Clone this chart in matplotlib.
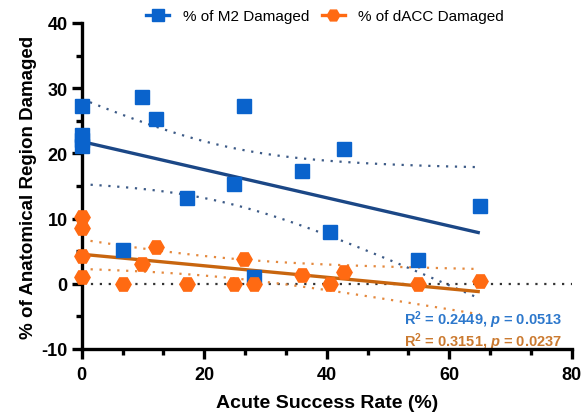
import numpy as np
import matplotlib
matplotlib.use("Agg")
import matplotlib.pyplot as plt
from matplotlib.ticker import MultipleLocator

plt.rcParams['font.family'] = ['Liberation Sans', 'DejaVu Sans']
plt.rcParams['mathtext.fontset'] = 'custom'
plt.rcParams['mathtext.rm'] = 'Liberation Sans:bold'
plt.rcParams['mathtext.it'] = 'Liberation Sans:italic:bold'
plt.rcParams['mathtext.bf'] = 'Liberation Sans:bold'
plt.rcParams['axes.unicode_minus'] = False

# Data
success_rate = [0, 0, 0, 0, 6.7, 9.8, 12.2, 17.2, 24.8, 26.5, 28.1, 36.0, 40.5, 42.8, 54.9, 65.0]
m2_damaged = [27.2, 22.8, 22.0, 21.1, 5.2, 28.7, 25.3, 13.1, 15.3, 27.3, 1.1, 17.3, 7.9, 20.7, 3.6, 11.9]
success_rate_d = [0, 0, 0, 0, 6.7, 9.8, 12.2, 17.2, 24.8, 26.5, 28.1, 36.0, 40.5, 42.8, 54.9, 65.0]
dacc_damaged = [10.3, 8.5, 4.3, 1.1, 0.0, 3.0, 5.7, 0.0, 0.0, 3.8, 0.0, 1.4, 0.0, 1.8, 0.0, 0.4]
stats_m2 = "R$^{2}$ = 0.2449, $p$ = 0.0513"
stats_dacc = "R$^{2}$ = 0.3151, $p$ = 0.0237"
x_ticks = [0, 20, 40, 60, 80]
y_ticks = [-10, 0, 10, 20, 30, 40]

T_CRIT = 2.145  # two-sided 95% t value, df = 14

blue_mk = '#0A63CC'
blue_ln = '#1B4786'
blue_ci = '#3C5A86'
blue_txt = '#2D78CC'
orange_mk = '#FF6A12'
orange_ln = '#C8650E'
orange_ci = '#E4893E'
orange_txt = '#CB7A30'

fig = plt.figure(figsize=(5.84, 4.14), dpi=100)
ax = fig.add_axes([81.7 / 584, 1 - 350 / 414, (571.7 - 81.7) / 584, (350 - 24) / 414])


def fit_band(x, y):
    x = np.asarray(x, float)
    y = np.asarray(y, float)
    n = len(x)
    b, a = np.polyfit(x, y, 1)
    xs = np.linspace(x.min(), x.max(), 100)
    yhat = a + b * xs
    resid = y - (a + b * x)
    s = np.sqrt(np.sum(resid ** 2) / (n - 2))
    sxx = np.sum((x - x.mean()) ** 2)
    se = s * np.sqrt(1.0 / n + (xs - x.mean()) ** 2 / sxx)
    return xs, yhat, yhat - T_CRIT * se, yhat + T_CRIT * se


# zero line
ax.plot([0, 80], [0, 0], color='#333333', ls=(0, (1, 3)), lw=1.6, zorder=1)

for xv, yv, mk, ln, ci in [(success_rate, m2_damaged, blue_mk, blue_ln, blue_ci),
                           (success_rate_d, dacc_damaged, orange_mk, orange_ln, orange_ci)]:
    xs, yh, lo, hi = fit_band(xv, yv)
    ax.plot(xs, lo, color=ci, ls=(0, (1, 3)), lw=1.6, zorder=2)
    ax.plot(xs, hi, color=ci, ls=(0, (1, 3)), lw=1.6, zorder=2)
    ax.plot(xs, yh, color=ln, lw=2.4, zorder=3, solid_capstyle='butt')

ax.plot(success_rate, m2_damaged, 's', color=blue_mk, ms=10, ls='none', zorder=4,
        clip_on=False)
ax.plot(success_rate_d, dacc_damaged, 'H', color=orange_mk, ms=11, ls='none', zorder=5,
        clip_on=False)

# legend handles
h1, = ax.plot([], [], color=blue_mk, marker='s', ms=8, lw=2.4)
h2, = ax.plot([], [], color=orange_mk, marker='H', ms=9, lw=2.4)
fig.legend([h1, h2], ['% of M2 Damaged', '% of dACC Damaged'], loc='center',
           bbox_to_anchor=(0.557, 0.958), ncol=2, frameon=False, fontsize=11,
           handlelength=1.5, columnspacing=0.8, handletextpad=0.9, borderpad=0.1)

ax.text(78.5, -5.5, stats_m2, color=blue_txt, fontsize=10.5, fontweight='bold',
        ha='right', va='center')
ax.text(78.5, -8.8, stats_dacc, color=orange_txt, fontsize=10.5, fontweight='bold',
        ha='right', va='center')

ax.set_xlim(0, 80)
ax.set_ylim(-10, 40)
ax.set_xticks(x_ticks)
ax.set_yticks(y_ticks)
ax.xaxis.set_minor_locator(MultipleLocator(20 / 3))
ax.yaxis.set_minor_locator(MultipleLocator(5))
for sp in ['top', 'right']:
    ax.spines[sp].set_visible(False)
for sp in ['left', 'bottom']:
    ax.spines[sp].set_linewidth(2.4)
    ax.spines[sp].set_color('black')
    ax.spines[sp].set_zorder(3.5)
ax.tick_params(which='major', length=7, width=2.4, labelsize=13, pad=3)
ax.tick_params(axis='x', which='major', pad=5)
ax.tick_params(which='minor', length=4, width=2.4)
for lab in ax.get_xticklabels() + ax.get_yticklabels():
    lab.set_fontweight('bold')
ax.set_xlabel('Acute Success Rate (%)', fontsize=14, fontweight='bold', labelpad=8)
ax.set_ylabel('% of Anatomical Region Damaged', fontsize=13.5, fontweight='bold', labelpad=3)

fig.savefig('out.png', dpi=100)
